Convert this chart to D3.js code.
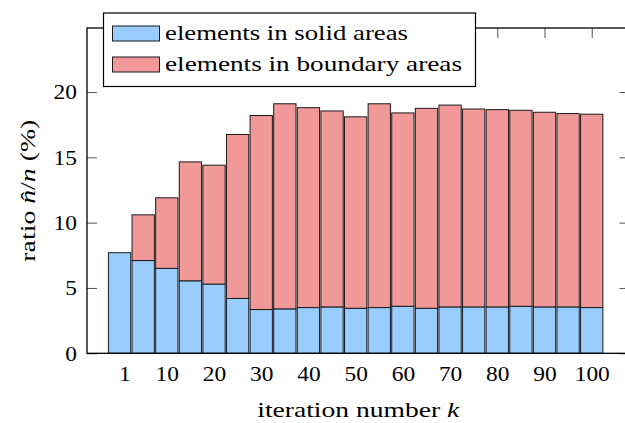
<!DOCTYPE html>
<html>
<head>
<meta charset="utf-8">
<script src="https://cdn.jsdelivr.net/npm/d3@7"></script>
<style>
  body { margin: 0; background: #fff; }
</style>
</head>
<body>
<div id="ratioGraph"></div>
<script>
// iteration numbers of the bars (first bar sits at the origin)
var iterations = [0, 5, 10, 15, 20, 25, 30, 35, 40, 45, 50, 55, 60, 65, 70, 75, 80, 85, 90, 95, 100];

// ratio (%) of elements in solid areas, bottom part of each bar
var solidRatio = [7.7, 7.1, 6.5, 5.55, 5.3, 4.2, 3.35, 3.4, 3.5, 3.55, 3.45, 3.5, 3.6, 3.45, 3.55, 3.55, 3.55, 3.6, 3.55, 3.55, 3.5];

// ratio (%) of elements in boundary areas, stacked on top
var boundaryRatio = [0, 3.5, 5.4, 9.1, 9.1, 12.55, 14.85, 15.7, 15.3, 15.0, 14.65, 15.6, 14.8, 15.3, 15.45, 15.15, 15.1, 15.0, 14.9, 14.8, 14.8];

// tick values shown on the axes
var xTicks = [1, 10, 20, 30, 40, 50, 60, 70, 80, 90, 100];
var yTicks = [0, 5, 10, 15, 20];

var seriesNames = ["elements in solid areas", "elements in boundary areas"];
var seriesColors = ["#99ccff", "#f19999"];

var serif = "'Liberation Serif', 'DejaVu Serif', serif";

function drawChart() {
  var width = 625,
    height = 423;

  // plot area (right border lies just outside the picture)
  var left = 87,
    right = 629.5,
    top = 28,
    bottom = 353.3;

  var x = d3.scaleLinear().domain([-6.9, 108]).range([left, right]);
  var y = d3.scaleLinear().domain([0, 24.9]).range([bottom, top]);

  var barWidth = x(4.72) - x(0);

  var svg = d3
    .select("#ratioGraph")
    .append("svg")
    .attr("width", width)
    .attr("height", height)
    .attr("font-family", serif);

  // build rows for the stack layout
  var rows = iterations.map(function(k, i) {
    return { k: k, solid: solidRatio[i], boundary: boundaryRatio[i] };
  });
  var stacked = d3.stack().keys(["solid", "boundary"])(rows);

  // bottom axis first, so the bars cover its inner ticks
  var xAxis = d3
    .axisBottom(x)
    .tickValues(xTicks)
    .tickSize(-10)
    .tickPadding(13)
    .tickFormat(d3.format("d"));

  var gx = svg
    .append("g")
    .attr("transform", "translate(0," + bottom + ")")
    .call(xAxis)
    .attr("font-family", serif)
    .attr("font-size", 21);
  gx.select(".domain").remove();
  gx.selectAll("line").attr("stroke", "#555");
  gx.selectAll("text")
    .style("font-family", serif)
    .attr("fill", "#000")
    .attr("textLength", function(d) {
      return String(d).length * 11.7;
    })
    .attr("lengthAdjust", "spacingAndGlyphs");

  // stacked bars
  svg
    .append("g")
    .selectAll("g")
    .data(stacked)
    .enter()
    .append("g")
    .attr("fill", function(d, i) {
      return seriesColors[i];
    })
    .selectAll("rect")
    .data(function(d) {
      return d;
    })
    .enter()
    .append("rect")
    .attr("x", function(d) {
      return x(d.data.k) - barWidth / 2;
    })
    .attr("y", function(d) {
      return y(d[1]);
    })
    .attr("width", barWidth)
    .attr("height", function(d) {
      return y(d[0]) - y(d[1]);
    })
    .attr("stroke", "#1a1a1a")
    .attr("stroke-width", 1);

  // left axis with inward ticks
  var yAxis = d3
    .axisLeft(y)
    .tickValues(yTicks)
    .tickSize(-10)
    .tickPadding(10);

  var gy = svg
    .append("g")
    .attr("transform", "translate(" + left + ",0)")
    .call(yAxis)
    .attr("font-family", serif)
    .attr("font-size", 21);
  gy.select(".domain").remove();
  gy.selectAll("line").attr("stroke", "#555");
  gy.selectAll("text")
    .style("font-family", serif)
    .attr("fill", "#000")
    .attr("textLength", function(d) {
      return String(d).length * 11.7;
    })
    .attr("lengthAdjust", "spacingAndGlyphs");

  // top and right ticks without labels
  var gTop = svg
    .append("g")
    .attr("transform", "translate(0," + top + ")")
    .call(d3.axisTop(x).tickValues(xTicks).tickSize(-10).tickFormat(""));
  gTop.select(".domain").remove();
  gTop.selectAll("line").attr("stroke", "#555");

  var gRight = svg
    .append("g")
    .attr("transform", "translate(" + right + ",0)")
    .call(d3.axisRight(y).tickValues(yTicks).tickSize(-10).tickFormat(""));
  gRight.select(".domain").remove();
  gRight.selectAll("line").attr("stroke", "#555");

  // axis frame
  svg
    .append("rect")
    .attr("x", left)
    .attr("y", top)
    .attr("width", right - left)
    .attr("height", bottom - top)
    .attr("fill", "none")
    .attr("stroke", "#000")
    .attr("stroke-width", 1.3);

  // x axis title
  var xTitle = svg
    .append("text")
    .attr("x", (left + right) / 2)
    .attr("y", 417)
    .attr("text-anchor", "middle")
    .attr("textLength", 202)
    .attr("lengthAdjust", "spacingAndGlyphs")
    .style("font-family", serif)
    .style("font-size", "21px");
  xTitle.append("tspan").text("iteration number ");
  xTitle.append("tspan").style("font-style", "italic").text("k");

  // y axis title
  var yTitle = svg
    .append("text")
    .attr("transform", "translate(35," + (top + bottom) / 2 + ") rotate(-90)")
    .attr("text-anchor", "middle")
    .attr("textLength", 142)
    .attr("lengthAdjust", "spacingAndGlyphs")
    .style("font-family", serif)
    .style("font-size", "21px");
  yTitle.append("tspan").text("ratio ");
  yTitle.append("tspan").style("font-style", "italic").text("n\u0302");
  yTitle.append("tspan").text("/");
  yTitle.append("tspan").style("font-style", "italic").text("n");
  yTitle.append("tspan").text(" (%)");

  // legend box in the upper left
  var legend = svg.append("g");
  legend
    .append("rect")
    .attr("x", 103.5)
    .attr("y", 13)
    .attr("width", 372)
    .attr("height", 73.5)
    .attr("fill", "#fff")
    .attr("stroke", "#000")
    .attr("stroke-width", 1.2);

  var entry = legend
    .selectAll(".entry")
    .data(seriesNames)
    .enter()
    .append("g")
    .attr("class", "entry")
    .attr("transform", function(d, i) {
      return "translate(0," + (33.5 + i * 31) + ")";
    });

  entry
    .append("rect")
    .attr("x", 112.5)
    .attr("y", -7.5)
    .attr("width", 47)
    .attr("height", 15)
    .attr("fill", function(d, i) {
      return seriesColors[i];
    })
    .attr("stroke", "#1a1a1a")
    .attr("stroke-width", 1);

  // legend text widths follow the reference
  var legendWidths = [243, 297];
  entry
    .append("text")
    .attr("x", 165)
    .attr("dy", "0.33em")
    .attr("textLength", function(d, i) {
      return legendWidths[i];
    })
    .attr("lengthAdjust", "spacingAndGlyphs")
    .style("font-family", serif)
    .style("font-size", "21px")
    .text(function(d) {
      return d;
    });
}

drawChart();
</script>
</body>
</html>
